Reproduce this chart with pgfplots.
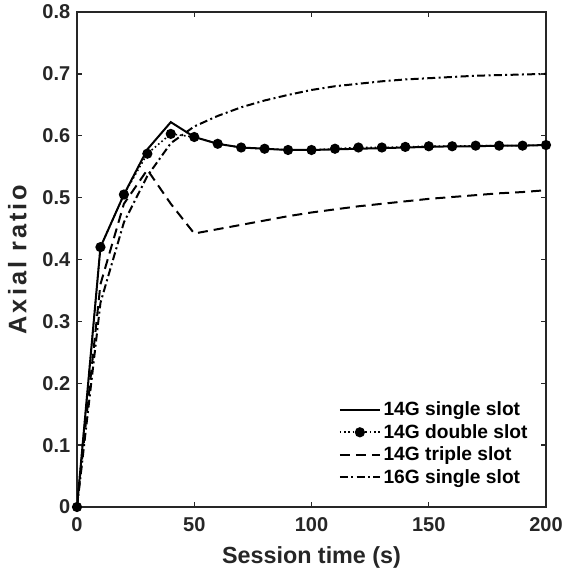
\documentclass[border=0pt]{standalone}
\usepackage{pgfplots}
\pgfplotsset{compat=1.18}
\usepackage{fontspec}
\setmainfont{Liberation Sans}
\definecolor{axgray}{RGB}{38,38,38}
\begin{document}
\begin{tikzpicture}
\begin{axis}[
  scale only axis,
  width=351.75pt, height=371.25pt,
  xmin=0, xmax=200, ymin=0, ymax=0.8,
  xtick={0,50,100,150,200},
  ytick={0,0.1,0.2,0.3,0.4,0.5,0.6,0.7,0.8},
  yticklabel style={/pgf/number format/fixed,/pgf/number format/precision=1, xshift=-1.5pt},
  xticklabel style={yshift=-4.5pt},
  /pgf/number format/assume math mode=true,
  tick label style={font=\bfseries\fontsize{15}{17}\selectfont, text=axgray},
  label style={font=\bfseries\fontsize{17.5}{20}\selectfont, text=axgray},
  xlabel={Session time (s)},
  ylabel={\fontsize{19}{21}\selectfont\addfontfeature{LetterSpace=12}Axial ratio},
  xlabel style={yshift=-4pt},
  ylabel style={yshift=5pt},
  axis line style={axgray, line width=1.5pt},
  tick style={axgray, line width=1pt},
  major tick length=3.5pt,
  tick align=inside,
  legend cell align=left,
  legend style={draw=none, fill=none, at={(0.555,0.035)}, anchor=south west,
    font=\bfseries\fontsize{14.4}{17}\selectfont, row sep=1pt, inner sep=1pt},
  legend image code/.code={\draw[mark repeat=2,mark phase=2,#1] plot coordinates {(0pt,0pt) (15pt,0pt) (30pt,0pt)};},
]
\addplot[black, line width=1.5pt] coordinates {
(0,0) (10,0.42) (20,0.505) (30,0.578) (40,0.622) (50,0.598) (60,0.587) (70,0.581)
(80,0.579) (90,0.577) (100,0.577) (110,0.578) (120,0.579) (130,0.580) (140,0.581)
(150,0.582) (160,0.583) (170,0.583) (180,0.584) (190,0.584) (200,0.585)};
\addlegendentry{14G single slot}
\addplot[black, line width=1.2pt, dotted, mark=*, mark size=3.2pt, mark options={solid}] coordinates {
(0,0) (10,0.42) (20,0.505) (30,0.571) (40,0.603) (50,0.598) (60,0.587) (70,0.581)
(80,0.579) (90,0.577) (100,0.577) (110,0.579) (120,0.581) (130,0.581) (140,0.582)
(150,0.583) (160,0.583) (170,0.584) (180,0.584) (190,0.584) (200,0.585)};
\addlegendentry{14G double slot}
\addplot[black, line width=1.5pt, dash pattern=on 7.5pt off 4.5pt] coordinates {
(0,0) (10,0.36) (20,0.49) (30,0.545) (40,0.49) (50,0.442) (60,0.449) (70,0.456)
(80,0.463) (90,0.470) (100,0.476) (110,0.481) (120,0.486) (130,0.490) (140,0.494)
(150,0.498) (160,0.501) (170,0.504) (180,0.507) (190,0.509) (200,0.512)};
\addlegendentry{14G triple slot}
\addplot[black, line width=1.5pt, dash pattern=on 6pt off 2.5pt on 1.5pt off 2.5pt] coordinates {
(0,0) (10,0.33) (20,0.46) (30,0.535) (40,0.588) (50,0.615) (60,0.632) (70,0.646)
(80,0.657) (90,0.666) (100,0.674) (110,0.680) (120,0.684) (130,0.688) (140,0.691)
(150,0.693) (160,0.695) (170,0.697) (180,0.698) (190,0.699) (200,0.700)};
\addlegendentry{16G single slot}
\end{axis}
\pgfresetboundingbox
\path ([shift={(-57.75pt,-51.75pt)}]current axis.south west) rectangle ([shift={(14.25pt,9pt)}]current axis.north east);
\end{tikzpicture}
\end{document}
